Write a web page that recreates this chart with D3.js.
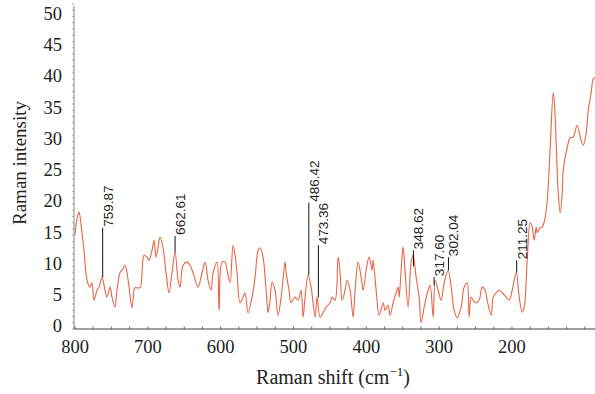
<!DOCTYPE html>
<html><head><meta charset="utf-8">
<script src="https://cdn.jsdelivr.net/npm/d3@7"></script>
<style>body{margin:0;background:#fff}svg{display:block}</style>
</head><body>
<script>
const shift = [800,797.5,794.5,793.1,790.5,787.6,783.5,779.4,776.6,773.9,769.8,767,762.9,758.8,756,751.9,749.2,745.1,742.3,738.2,735.4,731.3,728.6,725.8,721.7,719,717.6,710.7,708,705.2,701.1,698.4,694.2,691.5,688.7,686,683.2,679.1,675,670.9,666.8,662.6,658.5,655.8,651.6,646.2,642,637.9,631,625.6,621.4,617.3,613.2,610.4,605,602.2,598.1,594,591.2,587.1,583,580.2,577.5,573.4,569.2,566.5,562.4,556.9,552.7,548.6,545.9,541.8,539,536.3,534.9,532.2,529.4,525.3,521.2,517,511.5,510.2,506.1,503.3,497.8,493.7,489.6,486.8,484.1,479.9,475.8,470.3,467.6,463.5,459.3,455.2,449.7,447,442.9,438.7,436,433.2,429.1,426.4,422.3,418.1,415.4,411.3,407.1,404.4,400.3,396.2,392,390.7,386.5,382.4,376.9,374.2,370.1,367.3,363.2,359.1,356.3,354.9,352.2,349.5,346.7,342.6,338.5,335.7,331.6,327.5,324.7,320.6,315.1,312.4,308.2,305.5,301.4,297.3,293.1,287.6,283.5,279.4,275.3,269.8,265.7,261.6,258.8,256.1,253.3,249.2,245.1,240.9,236.8,234.1,228.6,225.8,221.7,217.6,213.5,208,203.9,199.7,194.2,190.1,186,183.2,179.1,175,172.2,169.5,166.8,165.4,161.3,158.5,155,151.6,147.5,143.4,142,139.3,136.5,133.8,131,129.7,124.2,120.1,116,110.5,106.3,102.2,98.1,95.3,91.2,88.5,86];
const intensity = [15,17.5,18.7,18,15.5,12.6,7.8,6.7,7.4,4.6,6.2,6.7,8.3,6.2,5.1,6.7,5.1,3.5,6.2,9,9.4,10.2,9,6.7,3.4,6.2,6.6,6.6,9,11.8,11.5,11,12.6,14.2,11.5,13,14.7,13,9,5.8,9,12.3,7.8,6.7,10.2,10.7,10.2,9,6.7,9,10.7,7.8,6.2,9,10.7,3,10.7,10.7,9.4,7.4,13.4,11.8,9,4.2,5.1,5.8,2.6,5.1,8.3,12.6,13,11.5,8.3,4.2,2.6,4.6,7.5,6.2,2.2,5.1,10.7,9.1,6.2,4.2,5.1,4.6,6.2,1.9,5.1,8.6,6.7,1.9,5.1,1.9,2.6,3.5,4.2,5.1,4.6,11.5,9,4.6,6.2,7.8,6.2,1.9,6.2,10.7,8.3,6.2,9.4,11.5,9.4,11,6.2,2.2,4.2,3,3.8,2.2,4.2,5.8,6.7,5.1,9.4,13.1,9,3.5,10.6,11.8,8.3,5.1,1,3.5,6.2,7,1.9,7.8,6.2,4.6,7.4,9.4,6.7,3,1.8,3.5,6.7,7.4,1.9,5.1,4.6,4.2,4.6,6.7,6.2,4.6,2.2,5.1,5.8,6.2,5.8,5.1,4.6,6.2,9,5.1,2.7,3.5,11,17,16.3,14.2,16.3,15.4,16.2,16.3,17.5,20.6,29,37.8,36.6,29.8,21.8,18.6,21.8,25.4,29,30.6,30.7,32.6,30.7,29.4,31.4,35,37.8,40,40.2];

const peakLabels = ["759.87","662.61","486.42","473.36","348.62","317.60","302.04","211.25"];
const peakPos    = [762.0, 662.6, 479.0, 465.8, 335.3, 306.9, 287.2, 193.5];
const peakBase   = [8.3, 12.3, 8.6, 5.1, 10.0, 7.0, 9.4, 9.0];
const peakTop    = [16.2, 14.9, 20.2, 13.4, 12.6, 8.3, 11.5, 11.0];

const xTicks = [800,700,600,500,400,300,200];
const yTicks = [0,5,10,15,20,25,30,35,40,45,50];

const W = 595, H = 394;
const svg = d3.select("body").append("svg").attr("width", W).attr("height", H);
const x = d3.scaleLinear().domain([800, 86]).range([75, 595]);
const y = d3.scaleLinear().domain([0, 50]).range([329, 16.5]);
const serif = "'Liberation Serif','Times New Roman',serif";

// y axis
const ya = svg.append("g").attr("transform", "translate(74,0)");
ya.append("line").attr("x1",0).attr("x2",0).attr("y1",6).attr("y2",329).attr("stroke","#666").attr("stroke-width",0.8);
ya.selectAll("line.minor").data(d3.range(0, 52.1, 1)).enter().append("line").attr("class","minor")
  .attr("x1",-2).attr("x2",0).attr("y1",d=>y(d)).attr("y2",d=>y(d)).attr("stroke","#999").attr("stroke-width",0.8);
ya.selectAll("text").data(yTicks).enter().append("text")
  .attr("x",-12).attr("y",d=>y(d)-3).attr("dy","0.35em").attr("text-anchor","end")
  .attr("font-family",serif).attr("font-size",18.5).attr("fill","#222").text(d=>d);

// x axis
const xa = svg.append("g").attr("transform","translate(0,329)");
xa.append("line").attr("x1",74).attr("x2",595).attr("y1",0).attr("y2",0).attr("stroke","#444").attr("stroke-width",1);
xa.selectAll("line.t").data(d3.range(800, 86, -25)).enter().append("line").attr("class","t")
  .attr("x1",d=>x(d)).attr("x2",d=>x(d)).attr("y1",0).attr("y2",-2.5).attr("stroke","#444").attr("stroke-width",0.8);
xa.selectAll("text").data(xTicks).enter().append("text")
  .attr("x",d=>x(d)).attr("y",24).attr("text-anchor","middle")
  .attr("font-family",serif).attr("font-size",18.5).attr("fill","#222").text(d=>d);

// titles
const xt = svg.append("text").attr("x",333).attr("y",384).attr("text-anchor","middle")
  .attr("font-family",serif).attr("font-size",20).attr("fill","#222");
xt.append("tspan").text("Raman shift (cm");
xt.append("tspan").attr("font-size",13).attr("dy",-8).text("\u22121");
xt.append("tspan").attr("dy",8).text(")");
svg.append("text").attr("transform","translate(26,163) rotate(-90)").attr("text-anchor","middle")
  .attr("font-family",serif).attr("font-size",19).attr("fill","#222").text("Raman intensity");

// curve
const pts = shift.map((s,i)=>[s,intensity[i]]);
const line = d3.line().x(d=>x(d[0])).y(d=>y(d[1])).curve(d3.curveCatmullRom.alpha(0.5));
svg.append("path").datum(pts).attr("d",line).attr("fill","none")
  .attr("stroke","#e66545").attr("stroke-width",1.1).attr("stroke-linejoin","round");

// peak markers
const pk = svg.append("g");
peakLabels.forEach((lab,i)=>{
  const px = x(peakPos[i]);
  pk.append("line").attr("x1",px).attr("x2",px).attr("y1",y(peakBase[i])).attr("y2",y(peakTop[i]))
    .attr("stroke","#111").attr("stroke-width",1);
  pk.append("text").attr("transform",`translate(${px+10},${y(peakTop[i])-1}) rotate(-90)`)
    .attr("font-family","'Liberation Sans',Arial,sans-serif").attr("font-size",13.5).attr("fill","#222")
    .text(lab);
});
</script>
</body></html>
